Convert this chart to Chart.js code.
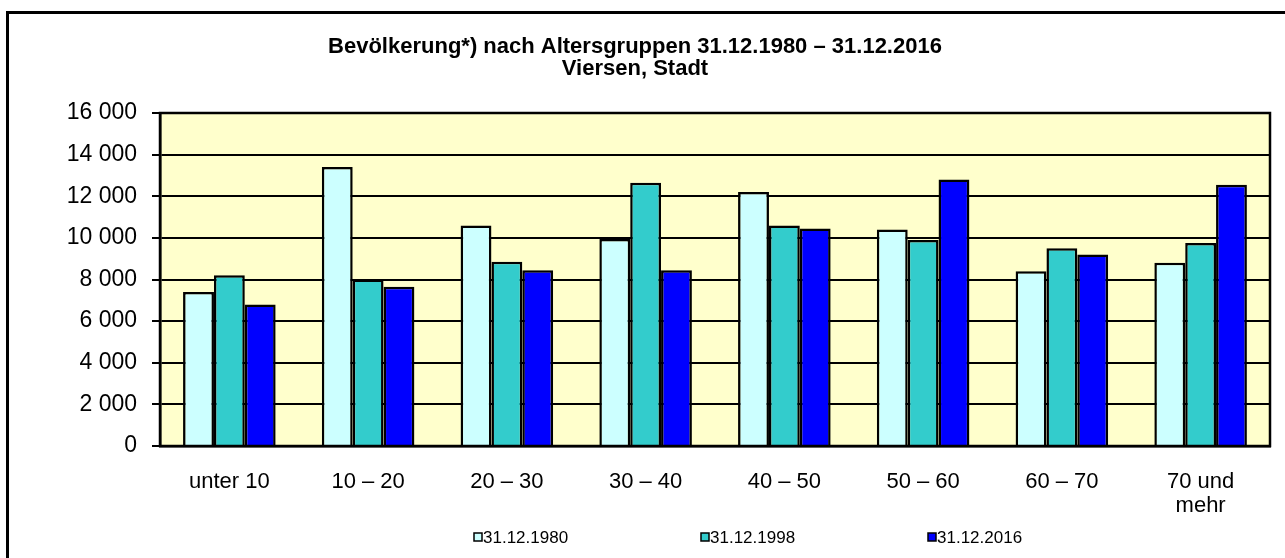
<!DOCTYPE html>
<html><head><meta charset="utf-8">
<script src="https://cdn.jsdelivr.net/npm/chart.js@4.4.1/dist/chart.umd.min.js"></script>
<style>html,body{margin:0;padding:0;background:#fff;} #wrap{width:1285px;height:558px;position:relative;}</style>
</head><body><div id="wrap"><canvas id="c" width="1285" height="558"></canvas></div>
<script>
const categories = ['unter 10', '10 – 20', '20 – 30', '30 – 40', '40 – 50', '50 – 60', '60 – 70', ['70 und', 'mehr']];
const seriesLabels = ['31.12.1980', '31.12.1998', '31.12.2016'];
const values1980 = [7400, 13400, 10600, 9950, 12200, 10400, 8400, 8800];
const values1998 = [8200, 8000, 8850, 12650, 10600, 9900, 9500, 9750];
const values2016 = [6800, 7650, 8450, 8450, 10450, 12800, 9200, 12550];
const yTickValues = [0, 2000, 4000, 6000, 8000, 10000, 12000, 14000, 16000];
const yTickLabels = ['0', '2 000', '4 000', '6 000', '8 000', '10 000', '12 000', '14 000', '16 000'];
const titleLines = ['Bevölkerung*) nach Altersgruppen 31.12.1980 – 31.12.2016', 'Viersen, Stadt'];
const seriesColors = ['#CCFFFF', '#33CCCC', '#0000FF'];

const FONT = '"Liberation Sans", Arial, sans-serif';
Chart.defaults.font.family = FONT;
Chart.defaults.color = '#000';

const plotDecor = {
  id: 'plotDecor',
  beforeDraw(chart) {
    const {ctx, chartArea: a} = chart;
    ctx.save();
    ctx.fillStyle = '#FFFFCC';
    ctx.fillRect(a.left, a.top, a.right - a.left, a.bottom - a.top);
    ctx.restore();
  },
  afterDatasetsDraw(chart) {
    const {ctx, chartArea: a} = chart;
    ctx.save();
    ctx.strokeStyle = '#000';
    ctx.lineWidth = 2.5;
    ctx.strokeRect(a.left, a.top, a.right - a.left, a.bottom - a.top);
    ctx.restore();
  },
  afterDraw(chart) {
    const {ctx} = chart;
    ctx.save();
    ctx.strokeStyle = '#000';
    ctx.lineWidth = 3;
    ctx.strokeRect(7.5, 12.5, 1300, 600);
    const startX = 474, stepX = 227, y = 537;
    ctx.font = '17px ' + FONT;
    ctx.textBaseline = 'middle';
    ctx.textAlign = 'left';
    chart.data.datasets.forEach((ds, i) => {
      const x = startX + i * stepX;
      ctx.fillStyle = ds.backgroundColor;
      ctx.fillRect(x, y - 4, 8, 8);
      ctx.lineWidth = 1.5;
      ctx.strokeStyle = '#000';
      ctx.strokeRect(x, y - 4, 8, 8);
      ctx.fillStyle = '#000';
      ctx.fillText(ds.label, x + 9, y + 1);
    });
    ctx.restore();
  }
};

new Chart(document.getElementById('c'), {
  type: 'bar',
  data: {
    labels: categories,
    datasets: [
      {label: seriesLabels[0], data: values1980, backgroundColor: seriesColors[0]},
      {label: seriesLabels[1], data: values1998, backgroundColor: seriesColors[1]},
      {label: seriesLabels[2], data: values2016, backgroundColor: seriesColors[2]}
    ].map(d => Object.assign(d, {borderColor: '#000', borderWidth: 2.5, categoryPercentage: 0.667, barPercentage: 1.0}))
  },
  options: {
    responsive: false,
    animation: false,
    devicePixelRatio: 1,
    layout: {padding: {left: 0, right: 15, top: 0, bottom: 0}},
    plugins: {
      legend: {display: false},
      tooltip: {enabled: false},
      title: {
        display: true,
        text: titleLines,
        font: {size: 22, weight: 'bold', family: FONT, lineHeight: 1.0},
        color: '#000',
        padding: {top: 36, bottom: 33}
      }
    },
    scales: {
      x: {
        grid: {display: false},
        border: {display: true, color: '#000', width: 2.5},
        ticks: {font: {size: 22, lineHeight: 1.1}, padding: 16, maxRotation: 0, autoSkip: false},
        afterFit(scale) { scale.height = 112; }
      },
      y: {
        min: 0, max: 16000,
        afterBuildTicks(scale) { scale.ticks = yTickValues.map(v => ({value: v})); },
        ticks: {
          font: {size: 23},
          padding: 15,
          callback: (v) => yTickLabels[yTickValues.indexOf(v)]
        },
        grid: {color: '#000', lineWidth: 2, tickLength: 8, drawTicks: true},
        border: {display: true, color: '#000', width: 2.5},
        afterFit(scale) { scale.width = 160; }
      }
    }
  },
  plugins: [plotDecor]
});
</script></body></html>
